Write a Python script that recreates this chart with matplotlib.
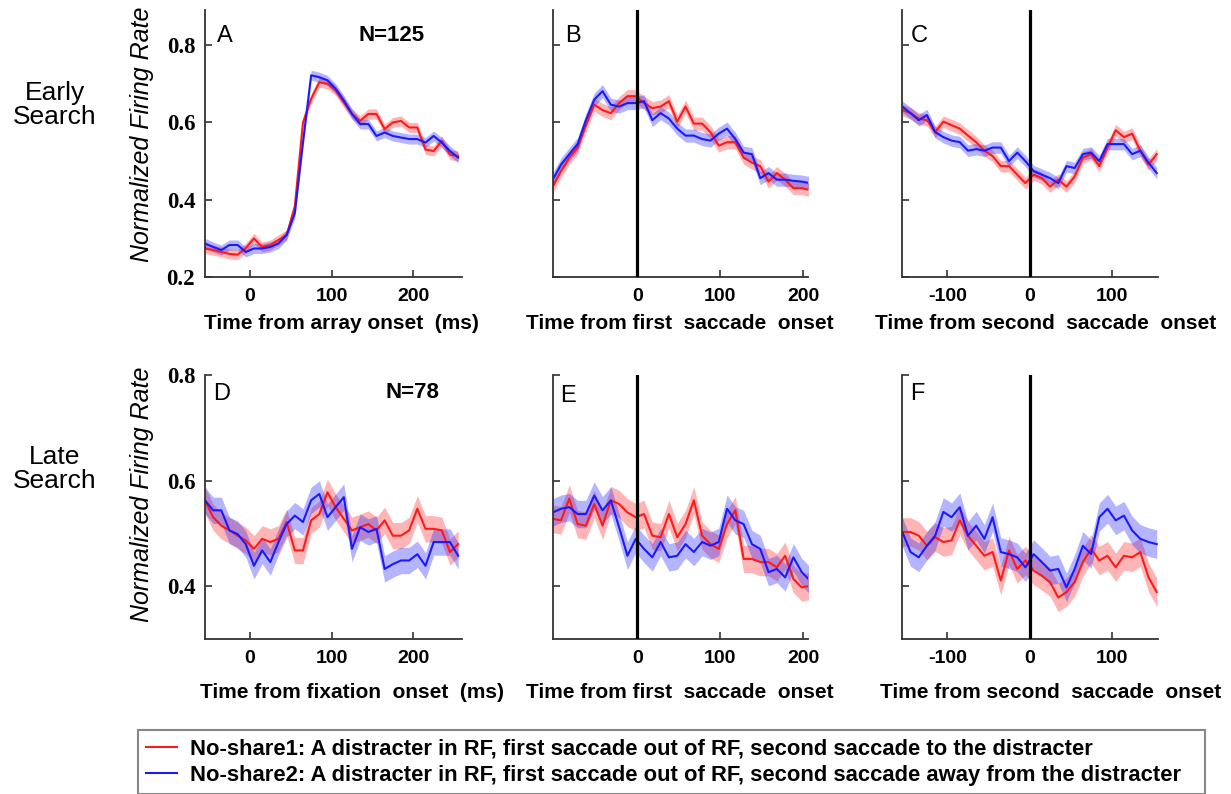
import matplotlib
matplotlib.use('Agg')
import matplotlib.pyplot as plt
import numpy as np

plt.rcParams['font.family'] = 'Liberation Sans'
plt.rcParams['axes.unicode_minus'] = False

# time bins (ms)
t_array = np.arange(-55, 265, 10)
t_first = np.arange(-102, 210, 10)
t_second = np.arange(-155, 165, 10)

# Early search
red_A = [0.274, 0.270, 0.265, 0.260, 0.258, 0.275, 0.300, 0.278, 0.283, 0.296, 0.309, 0.383,
         0.600, 0.661, 0.704, 0.700, 0.683, 0.652, 0.622, 0.604, 0.622, 0.622, 0.583, 0.600,
         0.604, 0.587, 0.587, 0.530, 0.526, 0.552, 0.517, 0.513]
blue_A = [0.287, 0.278, 0.270, 0.283, 0.283, 0.265, 0.274, 0.274, 0.278, 0.287, 0.309, 0.365,
          0.548, 0.722, 0.717, 0.709, 0.687, 0.657, 0.622, 0.596, 0.596, 0.565, 0.574, 0.565,
          0.561, 0.557, 0.557, 0.548, 0.565, 0.548, 0.526, 0.509]
red_B = [0.434, 0.474, 0.509, 0.535, 0.593, 0.646, 0.632, 0.624, 0.650, 0.668, 0.668, 0.650,
         0.637, 0.641, 0.655, 0.602, 0.641, 0.597, 0.597, 0.575, 0.540, 0.549, 0.549, 0.509,
         0.496, 0.487, 0.447, 0.469, 0.452, 0.430, 0.430, 0.425]
blue_B = [0.452, 0.491, 0.518, 0.544, 0.606, 0.659, 0.681, 0.646, 0.641, 0.650, 0.650, 0.655,
          0.606, 0.624, 0.610, 0.584, 0.566, 0.566, 0.557, 0.553, 0.571, 0.584, 0.557, 0.522,
          0.518, 0.456, 0.469, 0.452, 0.452, 0.449, 0.447, 0.443]
red_C = [0.632, 0.624, 0.610, 0.606, 0.575, 0.602, 0.593, 0.584, 0.566, 0.549, 0.527, 0.513,
         0.487, 0.487, 0.465, 0.443, 0.465, 0.456, 0.434, 0.452, 0.434, 0.460, 0.509, 0.518,
         0.487, 0.535, 0.580, 0.562, 0.571, 0.527, 0.491, 0.518]
blue_C = [0.641, 0.624, 0.606, 0.619, 0.575, 0.562, 0.553, 0.549, 0.527, 0.531, 0.527, 0.535,
          0.535, 0.500, 0.522, 0.500, 0.474, 0.465, 0.456, 0.443, 0.487, 0.482, 0.518, 0.522,
          0.500, 0.544, 0.544, 0.544, 0.518, 0.527, 0.496, 0.469]

# Late search
red_D = [0.563, 0.531, 0.515, 0.506, 0.496, 0.487, 0.471, 0.490, 0.484, 0.490, 0.522, 0.468,
         0.468, 0.525, 0.537, 0.578, 0.550, 0.528, 0.506, 0.512, 0.518, 0.506, 0.525, 0.496,
         0.496, 0.506, 0.547, 0.509, 0.509, 0.506, 0.465, 0.480]
blue_D = [0.563, 0.544, 0.544, 0.506, 0.499, 0.480, 0.439, 0.468, 0.446, 0.484, 0.518, 0.534,
          0.522, 0.563, 0.575, 0.531, 0.550, 0.569, 0.471, 0.512, 0.503, 0.509, 0.433, 0.442,
          0.449, 0.449, 0.461, 0.439, 0.484, 0.484, 0.484, 0.458]
red_E = [0.528, 0.525, 0.566, 0.518, 0.515, 0.556, 0.515, 0.563, 0.556, 0.540, 0.531, 0.537,
         0.496, 0.493, 0.537, 0.493, 0.518, 0.563, 0.496, 0.480, 0.471, 0.518, 0.544, 0.452,
         0.452, 0.446, 0.446, 0.436, 0.458, 0.414, 0.398, 0.401]
blue_E = [0.540, 0.547, 0.550, 0.537, 0.537, 0.572, 0.544, 0.563, 0.512, 0.458, 0.490, 0.471,
          0.455, 0.484, 0.455, 0.458, 0.480, 0.465, 0.484, 0.477, 0.484, 0.547, 0.525, 0.518,
          0.480, 0.471, 0.427, 0.433, 0.417, 0.455, 0.427, 0.411]
red_F = [0.503, 0.503, 0.496, 0.477, 0.493, 0.484, 0.487, 0.525, 0.496, 0.477, 0.458, 0.465,
         0.411, 0.468, 0.433, 0.449, 0.430, 0.420, 0.408, 0.379, 0.389, 0.408, 0.446, 0.471,
         0.449, 0.458, 0.436, 0.458, 0.455, 0.465, 0.417, 0.389]
blue_F = [0.503, 0.465, 0.455, 0.477, 0.496, 0.541, 0.531, 0.550, 0.496, 0.515, 0.490, 0.531,
          0.465, 0.461, 0.455, 0.436, 0.461, 0.446, 0.430, 0.433, 0.398, 0.433, 0.477, 0.461,
          0.531, 0.547, 0.525, 0.534, 0.506, 0.490, 0.484, 0.480]

# half-width of the shaded error bands (red, blue)
sem_early = [(0.013, 0.013), (0.017, 0.017), (0.015, 0.015)]
sem_late = [(0.025, 0.025), (0.026, 0.026), (0.027, 0.027)]

letters = ['A', 'B', 'C', 'D', 'E', 'F']
xlabels = ['Time from array onset  (ms)', 'Time from first  saccade  onset',
           'Time from second  saccade  onset', 'Time from fixation  onset  (ms)',
           'Time from first  saccade  onset', 'Time from second  saccade  onset']
legend_labels = ['No-share1: A distracter in RF, first saccade out of RF, second saccade to the distracter',
                 'No-share2: A distracter in RF, first saccade out of RF, second saccade away from the distracter']

RED = '#ff1a1a'
BLUE = '#1a1aff'

fig = plt.figure(figsize=(12.31, 7.94), dpi=100)

lefts = [0.1665, 0.449, 0.733]
widths = [0.209, 0.207, 0.208]
row_pos = [(0.651, 0.336), (0.195, 0.3325)]

panels = [
    (t_array, red_A, blue_A, sem_early[0], (-55, 260)),
    (t_first, red_B, blue_B, sem_early[1], (-102, 205)),
    (t_second, red_C, blue_C, sem_early[2], (-155, 157)),
    (t_array, red_D, blue_D, sem_late[0], (-55, 260)),
    (t_first, red_E, blue_E, sem_late[1], (-102, 205)),
    (t_second, red_F, blue_F, sem_late[2], (-155, 157)),
]
xtick_sets = [[0, 100, 200], [0, 100, 200], [-100, 0, 100]]
letter_pos = [(0.047, 0.905), (0.047, 0.905), (0.031, 0.905),
              (0.031, 0.93), (0.031, 0.92), (0.031, 0.93)]
xlabel_x = [0.53, 0.5, 0.56, 0.57, 0.5, 0.58]

handles = None
for i, (t, red, blue, sem, xlim) in enumerate(panels):
    row, col = divmod(i, 3)
    ax = fig.add_axes([lefts[col], row_pos[row][0], widths[col], row_pos[row][1]])
    red = np.array(red)
    blue = np.array(blue)
    ax.fill_between(t, red - sem[0], red + sem[0], color=RED, alpha=0.32, lw=0)
    ax.fill_between(t, blue - sem[1], blue + sem[1], color=BLUE, alpha=0.32, lw=0)
    l1, = ax.plot(t, red, color=RED, lw=1.5)
    l2, = ax.plot(t, blue, color=BLUE, lw=1.5)
    if handles is None:
        handles = [l1, l2]
    if col > 0:
        ax.axvline(0, color='k', lw=2.3, zorder=5)

    ax.set_xlim(*xlim)
    if row == 0:
        ax.set_ylim(0.2, 0.89)
        yt = [0.2, 0.4, 0.6, 0.8]
    else:
        ax.set_ylim(0.3, 0.8)
        yt = [0.4, 0.6, 0.8]
    ax.set_yticks(yt)
    ax.set_xticks(xtick_sets[col])
    for s in ['top', 'right']:
        ax.spines[s].set_visible(False)
    for s in ['left', 'bottom']:
        ax.spines[s].set_color('#333333')
        ax.spines[s].set_linewidth(1.3)
    ax.tick_params(direction='in', length=5, width=1.2, color='#333333')
    ax.tick_params(axis='x', labelsize=14, pad=8)
    for lab in ax.get_xticklabels():
        lab.set_fontweight('bold')
    if col == 0:
        ax.set_yticklabels(['%.1f' % v for v in yt], fontfamily='Liberation Serif',
                           fontweight='bold', fontsize=16.5)
        ax.tick_params(axis='y', pad=7)
        ax.set_ylabel('Normalized Firing Rate', fontsize=18, fontstyle='italic')
        ax.yaxis.set_label_coords(-0.20, 0.535 if row == 0 else 0.55)
    else:
        ax.tick_params(axis='y', labelleft=False)

    ax.set_xlabel(xlabels[i], fontsize=15, fontweight='bold')
    ax.xaxis.set_label_coords(xlabel_x[i], -0.14 if row == 0 else -0.165)

    lx, ly = letter_pos[i]
    ax.text(lx, ly, letters[i], transform=ax.transAxes, fontsize=17, va='center', ha='left')

# sample sizes
fig.axes[0].text(0.595, 0.905, 'N=125', transform=fig.axes[0].transAxes,
                 fontsize=16, fontweight='bold', va='center', ha='left')
fig.axes[3].text(0.70, 0.935, 'N=78', transform=fig.axes[3].transAxes,
                 fontsize=16, fontweight='bold', va='center', ha='left')

# row labels
fig.text(55 / 1231, 1 - 105 / 794, 'Early\nSearch', fontsize=19, ha='center', va='center',
         linespacing=1.0)
fig.text(55 / 1231, 1 - 469 / 794, 'Late\nSearch', fontsize=19, ha='center', va='center',
         linespacing=1.0)

leg = fig.legend(handles, legend_labels, loc='upper left',
                 bbox_to_anchor=(138 / 1231, 2 / 794, 1067 / 1231, 62 / 794), mode='expand',
                 prop={'size': 15.8, 'weight': 'bold'}, handlelength=1.4, handletextpad=0.6,
                 labelspacing=0.26, borderpad=0.38, borderaxespad=0, fancybox=False,
                 framealpha=1)
leg.get_frame().set_edgecolor('#888888')
leg.get_frame().set_linewidth(1.5)

fig.savefig('out.png', dpi=100)
